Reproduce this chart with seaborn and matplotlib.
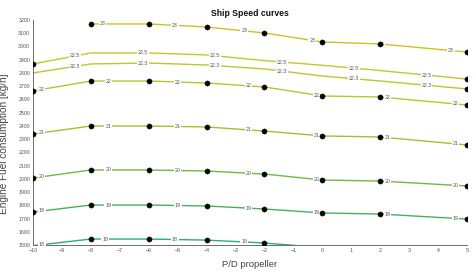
import numpy as np
import pandas as pd
import matplotlib
matplotlib.use("Agg")
import matplotlib.pyplot as plt
import seaborn as sns

# ---- data ----
pd_values = [-10, -8, -6, -4, -2, 0, 2, 5]
speeds = ["23", "22.5", "22.3", "22", "21", "20", "19", "18"]
fuel_23 = [np.nan, 3170, 3170, 3147, 3102, 3034, 3019, 2958]
fuel_22_5 = [2868, 2951, 2951, 2936, 2893, 2858, 2818, 2754]
fuel_22_3 = [2800, 2868, 2875, 2860, 2830, 2777, 2739, 2679]
fuel_22 = [2664, 2739, 2739, 2724, 2694, 2626, 2618, 2558]
fuel_21 = [2339, 2399, 2399, 2392, 2361, 2324, 2316, 2256]
fuel_20 = [2006, 2067, 2067, 2059, 2036, 1991, 1983, 1946]
fuel_19 = [1749, 1802, 1802, 1795, 1772, 1742, 1734, 1696]
fuel_18 = [1495, 1545, 1545, 1537, 1515, 1480, np.nan, np.nan]
series = [fuel_23, fuel_22_5, fuel_22_3, fuel_22, fuel_21, fuel_20, fuel_19, fuel_18]

# which computed points carry a black dot
dots_23 = [0, 1, 1, 1, 1, 1, 1, 1]
dots_22_5 = [1, 0, 0, 0, 0, 0, 0, 1]
dots_22_3 = [0, 0, 0, 0, 0, 0, 0, 1]
dots_22 = [1, 1, 1, 1, 1, 1, 1, 1]
dots_21 = [1, 1, 1, 1, 1, 1, 1, 1]
dots_20 = [1, 1, 1, 1, 1, 1, 1, 1]
dots_19 = [1, 1, 1, 1, 1, 1, 1, 1]
dots_18 = [0, 1, 1, 1, 1, 0, 0, 0]
dots = [dots_23, dots_22_5, dots_22_3, dots_22, dots_21, dots_20, dots_19, dots_18]

# inline label positions (P/D) per curve
lab_a = [-7.6, -5.1, -2.7, -0.35, 2.05, 4.45]
lab_b = [-8.55, -6.2, -3.7, -1.4, 1.1, 3.6]
lab_c = [-9.7, -7.4, -5.0, -2.55, -0.2, 2.25, 4.6]
lab_d = [-9.7, -7.5, -5.1, -2.7]
label_pos = [lab_a, lab_b, lab_b, lab_c, lab_c, lab_c, lab_c, lab_d]

x_ticks = list(range(-10, 6))
y_ticks = list(range(1500, 3201, 100))

colors = {"23": "#cfc21e", "22.5": "#c6c52a", "22.3": "#c2c52c", "22": "#bcc42a",
          "21": "#a6bf2c", "20": "#74b742", "19": "#45b25e", "18": "#2aae7e"}

rows = []
for sp, vals, dm in zip(speeds, series, dots):
    for xv, yv, d in zip(pd_values, vals, dm):
        if not np.isnan(yv):
            rows.append({"pd": xv, "fuel": yv, "speed": sp, "dot": d})
df = pd.DataFrame(rows)

sns.set_style("white")
plt.rcParams["font.family"] = ["Liberation Sans", "DejaVu Sans"]

fig = plt.figure(figsize=(4.76, 2.76), dpi=100)
ax = fig.add_axes([33 / 476, 31 / 276, 434 / 476, 225 / 276])

sns.lineplot(data=df, x="pd", y="fuel", hue="speed", palette=colors,
             estimator=None, sort=False, lw=1.0, legend=False, ax=ax, zorder=2)
sns.scatterplot(data=df[df["dot"] == 1], x="pd", y="fuel", color="black",
                s=14, edgecolor="black", linewidth=0.3, legend=False, ax=ax, zorder=4)

for sp, vals, pos in zip(speeds, series, label_pos):
    xs = np.array(pd_values, dtype=float)
    ys = np.array(vals, dtype=float)
    m = ~np.isnan(ys)
    for p in pos:
        yv = np.interp(p, xs[m], ys[m])
        ax.text(p, yv, sp, fontsize=3.8, color="#555555", ha="center", va="center",
                zorder=3, bbox=dict(facecolor="white", edgecolor="none", pad=0.6))

ax.set_xlim(-10, 5)
ax.set_ylim(1500, 3200)
ax.set_xticks(x_ticks)
ax.set_yticks(y_ticks)
ax.tick_params(axis="both", labelsize=3.8, direction="in", length=2.5, width=0.5,
               colors="#555555", pad=2)
for s in ["top", "right"]:
    ax.spines[s].set_visible(False)
for s in ["left", "bottom"]:
    ax.spines[s].set_color("#555555")
    ax.spines[s].set_linewidth(0.6)

ax.set_xlabel("P/D propeller", fontsize=6.8, color="#444444")
ax.set_ylabel("Engine Fuel consumption [kg/h]", fontsize=7.2, color="#444444")
ax.xaxis.set_label_coords(0.5, -0.065)
ax.yaxis.set_label_coords(-0.055, 0.45)
fig.text(250 / 476, 1 - 14 / 276, "Ship Speed curves", fontsize=6.2,
         fontweight="bold", ha="center", va="center", color="#111111")

fig.savefig("out.png", dpi=100, facecolor="white")
